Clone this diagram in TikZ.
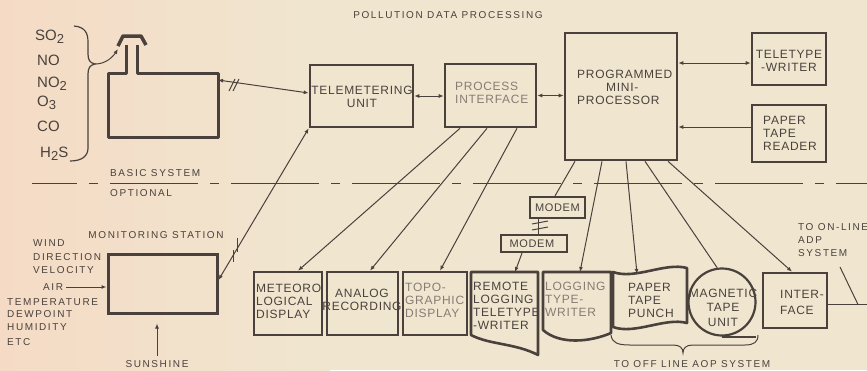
\documentclass[tikz,border=0pt]{standalone}
\usepackage{fontspec}
\setmainfont{Liberation Sans}
\newfontfamily\bxfont[LetterSpace=6]{Liberation Sans}
\newfontfamily\lbfont[LetterSpace=16]{Liberation Sans}
\usetikzlibrary{arrows.meta,calc}
\definecolor{ink}{HTML}{4A413C}
\definecolor{inklight}{HTML}{877C74}
\definecolor{paper}{HTML}{F0E6D0}
\definecolor{paperpink}{HTML}{F5DBC5}
\newcommand\sbs[1]{\raisebox{-3.5pt}{\fontsize{13}{13}\selectfont #1}}
\begin{document}
\begin{tikzpicture}[x=1pt,y=-1pt,
  boxnode/.style={draw=ink,line width=2.6pt,inner sep=0pt},
  hidden/.style={inner sep=0pt,outer sep=0pt},
  shapeline/.style={draw=ink,line width=2.6pt,line join=round},
  btxt/.style={font=\bxfont\fontsize{12}{13}\selectfont,text=ink,inner sep=0pt},
  ltxt/.style={font=\lbfont\fontsize{10}{13}\selectfont,text=ink,inner sep=0pt},
  gtxt/.style={font=\fontsize{15}{15}\selectfont,text=ink,inner sep=0pt,anchor=base west},
  conn/.style={draw=ink,line width=1pt},
  arr/.style={conn,-{Latex[length=5pt,width=4pt]}},
  arrb/.style={conn,{Latex[length=5pt,width=4pt]}-{Latex[length=5pt,width=4pt]}}]
\useasboundingbox (0,0) rectangle (867,370);
\fill[paper] (0,0) rectangle (867,370);
\shade[left color=paperpink,right color=paper] (0,0) rectangle (330,370);

% title and separators
\node[ltxt] (title) at (448,15) {POLLUTION DATA PROCESSING};
\draw[ink,line width=1pt,dash pattern=on 88pt off 12pt on 9pt off 12pt,dash phase=43pt] (32,183) -- (867,183);
\node[ltxt,anchor=west] (basic) at (110,173) {BASIC SYSTEM};
\node[ltxt,anchor=west] (optional) at (110,193) {OPTIONAL};

% gases
\node[gtxt] (so2) at (35,40.4) {SO\sbs{2}};
\node[gtxt] (no) at (37,65.4) {NO};
\node[gtxt] (no2) at (37,87.4) {NO\sbs{2}};
\node[gtxt] (o3) at (37,106) {O\sbs{3}};
\node[gtxt] (co) at (37,131.4) {CO};
\node[gtxt] (h2s) at (40,157.4) {H\sbs{2}S};
\draw[ink,line width=1.2pt] (74,26) .. controls (85,27) and (88,33) .. (88,42) -- (88,54)
  .. controls (88,60) and (90,63) .. (95,64) .. controls (90,65) and (88,68) .. (88,74)
  -- (88,148) .. controls (88,156) and (82,161) .. (70,161);

% basic station
\node[hidden,minimum width=110pt,minimum height=64pt] (stat) at (163,105) {};
\draw[shapeline,line width=3pt] (126,45) -- (126,73) -- (stat.north west) -- (stat.south west)
  -- (stat.south east) -- (stat.north east) -- (137,73) -- (137,45);
\draw[ink,line width=3.5pt,line join=round] (118,46) -- (123,36) -- (141,36) -- (146,45);
\draw[arr] (95,64) .. controls (105,64) and (112,58) .. (118,49);

% top row
\node[boxnode,minimum width=103pt,minimum height=62pt] (tu) at (361.5,96) {};
\node[btxt,align=center] (tut) at (362,97) {TELEMETERING\\UNIT};
\node[boxnode,minimum width=91pt,minimum height=63pt] (pi) at (490.5,95.5) {};
\node[btxt,align=left,anchor=west,text=inklight] (pit) at (455,93) {PROCESS\\INTERFACE};
\node[boxnode,minimum width=112pt,minimum height=127pt] (pmp) at (621,96.5) {};
\node[btxt,align=left,anchor=west] (pmpt) at (577,87) {PROGRAMMED\\\hspace*{29pt}MINI-\\PROCESSOR};
\node[boxnode,minimum width=74pt,minimum height=52pt] (ttw) at (789,59) {};
\node[btxt,align=center] (ttwt) at (789,60.5) {TELETYPE\\-WRITER};
\node[boxnode,minimum width=74pt,minimum height=57pt] (ptr) at (789,133.5) {};
\node[btxt,align=left,anchor=west] (ptrt) at (763,133) {PAPER\\TAPE\\READER};
\coordinate (ttwin) at ([yshift=-4pt]ttw.west);
\coordinate (ptrin) at ([yshift=6.5pt]ptr.west);

\draw[arrb] ([yshift=3pt]tu.west) -- ([yshift=25pt]stat.east);
\draw[conn] (229,91) -- (235,79) (233,91) -- (239,79);
\draw[arrb] (tu.east) -- (pi.west |- tu.east);
\draw[arrb] (pi.east) -- (pmp.west |- pi.east);
\draw[arrb] (ttwin) -- (pmp.east |- ttwin);
\draw[arr] (ptrin) -- (pmp.east |- ptrin);

% monitoring station
\node[boxnode,line width=3pt,minimum width=109pt,minimum height=59pt] (mon) at (162.5,283.5) {};
\node[ltxt] (mont) at (156,235) {MONITORING STATION};
\draw[arrb] (tu.south west) -- ([yshift=3.5pt]mon.east);
\draw[conn] (237.5,238) -- (237.5,252) (233.5,250) -- (233.5,262);
\node[ltxt,anchor=west] (wind) at (33,243) {WIND};
\node[ltxt,anchor=west] (dir) at (33,257) {DIRECTION};
\node[ltxt,anchor=west] (vel) at (33,270) {VELOCITY};
\node[ltxt,anchor=west] (air) at (43,287) {AIR};
\node[ltxt,anchor=west] (temp) at (7,302) {TEMPERATURE};
\node[ltxt,anchor=west] (dew) at (7,314) {DEWPOINT};
\node[ltxt,anchor=west] (hum) at (7,327) {HUMIDITY};
\node[ltxt,anchor=west] (etc) at (7,342) {ETC};
\draw[arr] ([xshift=3pt]air.east) -- (mon.west |- air.east);
\node[ltxt] (sun) at (157,364) {SUNSHINE};
\draw[arr,shorten <=4pt,shorten >=9pt] (sun.north) -- (sun.north |- mon.south);

% bottom row
\node[boxnode,minimum width=68pt,minimum height=63pt] (meteo) at (288,303.5) {};
\node[btxt,align=left,anchor=west] (meteot) at (256,301.5) {METEORO\\LOGICAL\\DISPLAY};
\node[boxnode,minimum width=71pt,minimum height=63pt] (analog) at (362.5,303.5) {};
\node[btxt,align=center] (analogt) at (362,299.5) {ANALOG\\RECORDING};
\node[boxnode,minimum width=64pt,minimum height=63pt] (topo) at (435,303.5) {};
\node[btxt,align=left,anchor=west,text=inklight] (topot) at (405,300.5) {TOPO-\\GRAPHIC\\DISPLAY};

\node[hidden,minimum width=67pt,minimum height=68pt] (rem) at (504.5,306) {};
\draw[shapeline] (471,335) -- (rem.north west) -- (rem.north east) -- (538,355)
  .. controls (515,343) and (490,345) .. (471,335) -- cycle;
\node[btxt,align=left,anchor=west] (remt) at (473,305.5) {REMOTE\\LOGGING\\TELETYPE\\-WRITER};

\node[hidden,minimum width=68pt,minimum height=58pt] (log) at (577,301) {};
\draw[shapeline] (543,330) -- (log.north west) -- (log.north east) -- (611,333)
  .. controls (590,342) and (560,345) .. (543,330) -- cycle;
\node[btxt,align=left,anchor=west,text=inklight] (logt) at (545,299) {LOGGING\\TYPE-\\WRITER};

\node[hidden,minimum width=74pt,minimum height=51pt] (pun) at (650,297.5) {};
\draw[shapeline] (613,272) .. controls (635,280) and (665,262) .. (687,268) -- (687,323)
  .. controls (665,317) and (635,335) .. (613,327) -- cycle;
\node[btxt,align=left,anchor=west] (punt) at (628,300.5) {PAPER\\TAPE\\PUNCH};

\node[draw=ink,line width=2.2pt,circle,minimum size=67pt,inner sep=0pt] (mag) at (722,302) {};
\draw[ink,line width=2.2pt] (mag.south) -- ++(34,0);
\node[btxt,align=center,font=\bxfont\fontsize{12}{14.5}\selectfont] (magt) at (723,307.5) {MAGNETIC\\TAPE\\UNIT};

\node[boxnode,minimum width=64pt,minimum height=55pt] (iface) at (795,300.5) {};
\node[btxt,align=left,anchor=west,font=\bxfont\fontsize{12}{16}\selectfont] (ifacet) at (780,302) {INTER-\\FACE};

\node[boxnode,line width=2.2pt,minimum width=55pt,minimum height=21pt] (m1) at (557.5,207.5) {};
\node[btxt,font=\bxfont\fontsize{11}{13}\selectfont] (m1t) at (557.5,208) {MODEM};
\node[boxnode,line width=2.2pt,minimum width=66pt,minimum height=17pt] (m2) at (534,243.5) {};
\node[btxt,font=\bxfont\fontsize{11}{13}\selectfont] (m2t) at (532,244) {MODEM};

% connectors to bottom row
\draw[arr] ([xshift=-30.5pt]pi.south) -- ([xshift=10pt]meteo.north);
\draw[arr] ([xshift=-3.5pt]pi.south) -- ([xshift=7.5pt]analog.north);
\draw[arr] ([xshift=26.5pt]pi.south) -- ([xshift=5pt]topo.north);
\draw[conn] ([xshift=-46pt]pmp.south) -- ([xshift=-2.5pt]m1.north);
\draw[conn] ([xshift=-19.5pt]m1.south) -- ([xshift=4pt]m2.north);
\draw[conn] (532,224) -- (548,221) (532,230) -- (548,227);
\draw[arr] ([xshift=-12pt]m2.south) -- ([xshift=10.5pt]rem.north);
\draw[arr] ([xshift=-19pt]pmp.south) -- ([xshift=3pt]log.north);
\draw[arr] ([xshift=5pt]pmp.south) -- ([xshift=-13pt,yshift=-2pt]pun.north);
\draw[conn] ([xshift=24pt]pmp.south) -- (mag.98);
\draw[arr] ([xshift=47pt]pmp.south) -- ([xshift=-3pt]iface.north);

% outputs
\coordinate (outend) at (870,304.5);
\coordinate (tap) at (858,304.5);
\draw[conn] ([yshift=-4pt]iface.east) -- (outend);
\node[ltxt,align=left,anchor=west] (online) at (798,240) {TO ON-LINE\\ADP\\SYSTEM};
\draw[conn] (840,267) -- (tap);
\draw[ink,line width=1pt] (611,335) .. controls (612,343) and (618,345) .. (630,345) -- (673,345)
  .. controls (680,345) and (683,348) .. (683,353) .. controls (683,348) and (686,345) .. (693,345)
  -- (745,345) .. controls (754,345) and (758,342) .. (758,335);
\node[ltxt] (offline) at (692,364) {TO OFF LINE AOP SYSTEM};
\end{tikzpicture}
\end{document}
